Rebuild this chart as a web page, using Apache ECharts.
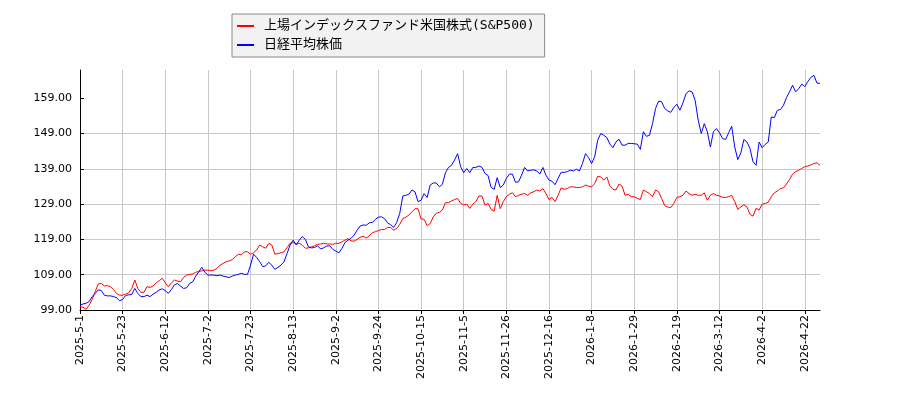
<!DOCTYPE html>
<html lang="ja">
<head>
    <meta charset="UTF-8">
    <title>上場インデックスファンド米国株式(S&P500)と日経平均株価</title>
    <script src="https://cdn.jsdelivr.net/npm/echarts@6/dist/echarts.min.js" type="text/javascript"></script>
    <style>
        html, body { margin: 0; padding: 0; background: #fff; }
    </style>
</head>
<body>
<div id="chart" style="width: 900px;height:400px;"></div>
</body>

<script type="text/javascript">
    // 東証の休場日 (平日)
    var holidays = ['2025-05-05', '2025-05-06', '2025-07-21', '2025-08-11', '2025-09-15', '2025-09-23',
        '2025-10-13', '2025-11-03', '2025-11-24', '2025-12-31', '2026-01-01', '2026-01-02',
        '2026-01-12', '2026-02-11', '2026-02-23', '2026-03-20', '2026-04-29'];

    var yTicks = [99, 109, 119, 129, 139, 149, 159];

    // 上場インデックスファンド米国株式(S&P500)
    var sp500 = [
        100.0, 99.8, 99.2, 100.4, 102.0, 104.2, 106.4, 106.5, 105.8, 105.9,
        105.6, 104.8, 103.7, 103.2, 103.2, 103.5, 103.9, 105.1, 107.5, 105.1,
        104.0, 104.0, 105.6, 105.4, 105.8, 106.7, 107.3, 108.0, 106.7, 105.6,
        106.7, 107.5, 107.2, 107.0, 108.2, 108.9, 109.1, 109.2, 109.7, 109.9,
        110.1, 110.3, 110.3, 110.1, 110.3, 110.8, 111.7, 112.2, 112.7, 112.9,
        113.3, 114.1, 114.8, 114.6, 115.5, 115.5, 114.8, 115.2, 116.0, 117.4,
        116.9, 116.5, 117.9, 117.4, 114.8, 115.0, 115.2, 115.5, 116.7, 117.9,
        118.1, 117.7, 117.9, 117.4, 116.5, 116.6, 116.9, 117.2, 117.6, 117.7,
        117.9, 117.7, 117.7, 117.6, 117.9, 117.9, 118.3, 118.8, 119.2, 118.6,
        118.5, 119.0, 119.6, 119.9, 119.4, 120.0, 120.9, 121.2, 121.5, 121.8,
        121.8, 122.4, 122.4, 121.6, 122.1, 123.3, 124.9, 125.3, 125.9, 126.8,
        127.7, 127.7, 124.8, 124.7, 122.9, 123.5, 125.4, 126.4, 126.7, 127.3,
        129.4, 129.4, 129.9, 130.3, 130.6, 129.2, 128.8, 129.0, 127.8, 129.0,
        129.7, 131.3, 131.3, 128.7, 129.2, 127.5, 127.0, 131.5, 127.7, 129.7,
        131.1, 131.8, 132.2, 131.1, 131.5, 131.8, 132.0, 131.5, 132.2, 132.5,
        133.0, 132.7, 133.4, 132.0, 130.3, 130.9, 129.7, 131.5, 133.6, 133.2,
        133.4, 133.9, 133.9, 133.7, 133.7, 133.9, 134.4, 134.1, 133.9, 134.8,
        136.9, 136.7, 135.8, 136.7, 134.1, 133.2, 133.0, 134.7, 134.1, 131.5,
        131.8, 131.1, 131.1, 130.6, 130.3, 133.0, 132.5, 132.0, 131.1, 133.0,
        132.5, 130.6, 128.6, 128.2, 128.0, 129.2, 130.9, 131.1, 131.5, 132.7,
        132.0, 131.5, 131.8, 131.5, 131.5, 132.2, 130.1, 131.5, 132.0, 131.5,
        131.3, 130.9, 130.9, 131.1, 131.5, 129.7, 127.5, 128.2, 128.8, 128.2,
        126.1, 125.6, 127.8, 127.3, 129.0, 129.2, 129.5, 131.1, 132.2, 132.7,
        133.4, 133.6, 134.7, 136.0, 137.5, 138.2, 138.6, 139.1, 139.6, 139.8,
        140.1, 140.5, 140.7, 140.0
    ];

    // 日経平均株価
    var nikkei = [
        100.4, 100.7, 100.9, 101.4, 102.8, 103.7, 104.7, 104.5, 103.2, 103.0,
        103.0, 102.8, 102.5, 101.6, 102.0, 103.1, 103.3, 103.4, 105.1, 103.7,
        102.8, 102.8, 103.2, 102.8, 103.5, 104.0, 104.7, 105.0, 104.5, 103.7,
        104.8, 106.1, 106.5, 105.8, 105.1, 105.3, 106.5, 107.0, 108.6, 109.8,
        111.1, 109.7, 108.9, 108.9, 108.9, 108.7, 108.9, 108.6, 108.4, 108.2,
        108.6, 108.9, 109.1, 109.4, 109.1, 109.1, 111.7, 114.8, 113.9, 112.7,
        111.3, 111.5, 112.5, 111.7, 110.5, 111.1, 111.7, 112.7, 115.0, 117.4,
        118.8, 117.4, 118.8, 119.8, 119.0, 116.9, 116.6, 116.7, 117.2, 116.3,
        116.6, 117.1, 117.2, 116.2, 115.7, 115.2, 116.4, 118.1, 118.8, 119.3,
        120.2, 121.6, 122.8, 123.1, 123.0, 123.7, 123.8, 124.7, 125.3, 125.4,
        124.9, 123.7, 123.2, 122.4, 123.8, 126.4, 131.3, 131.5, 131.8, 133.0,
        132.5, 129.7, 130.1, 132.0, 130.9, 134.4, 135.0, 135.0, 133.9, 134.6,
        137.9, 139.4, 140.0, 141.5, 143.3, 139.6, 137.9, 139.1, 137.9, 139.4,
        139.4, 139.8, 139.4, 137.7, 137.1, 133.7, 133.2, 136.5, 133.7, 134.4,
        136.3, 137.5, 137.5, 135.2, 135.3, 137.2, 139.4, 138.4, 138.6, 138.7,
        138.4, 137.5, 139.4, 137.2, 135.8, 135.5, 134.5, 136.3, 138.0, 138.0,
        138.2, 138.6, 138.4, 138.9, 138.4, 140.5, 143.3, 142.2, 140.5, 142.4,
        147.1, 149.0, 148.5, 147.9, 146.0, 145.0, 146.6, 147.4, 145.7, 145.7,
        146.2, 146.2, 146.1, 146.0, 144.5, 149.5, 148.2, 148.5, 151.8, 156.1,
        158.2, 158.0, 156.1, 155.4, 155.0, 156.4, 157.3, 155.6, 157.7, 160.3,
        161.1, 160.8, 158.4, 152.8, 149.0, 151.8, 149.5, 145.2, 149.5, 150.4,
        149.2, 147.6, 147.3, 149.2, 151.1, 145.2, 141.6, 143.5, 147.3, 146.6,
        144.8, 141.0, 140.0, 146.6, 145.0, 145.9, 146.6, 153.7, 153.5, 155.6,
        155.8, 157.0, 159.2, 160.8, 162.7, 160.8, 161.7, 163.0, 162.3, 163.7,
        164.9, 165.5, 163.3, 163.2
    ];

    // 営業日 (2025-5-1 から)
    var dates = [];
    var d = new Date(Date.UTC(2025, 4, 1));
    while (dates.length < sp500.length) {
        var iso = d.toISOString().slice(0, 10);
        var wd = d.getUTCDay();
        if (wd !== 0 && wd !== 6 && holidays.indexOf(iso) < 0) {
            dates.push(d.getUTCFullYear() + '-' + (d.getUTCMonth() + 1) + '-' + d.getUTCDate());
        }
        d.setUTCDate(d.getUTCDate() + 1);
    }

    var chart = echarts.init(document.getElementById('chart'));
    chart.setOption({
        animation: false,
        grid: {left: 80, right: 80, top: 70, bottom: 90},
        legend: {
            orient: 'vertical',
            left: 232,
            top: 14,
            padding: [4, 10, 4, 5],
            itemGap: 3,
            itemWidth: 17,
            itemHeight: 2,
            icon: 'rect',
            backgroundColor: '#f2f2f2',
            borderColor: '#8a8a8a',
            borderWidth: 1,
            borderRadius: 0,
            textStyle: {
                fontFamily: '"DejaVu Sans Mono", "Noto Sans CJK JP"',
                fontSize: 13,
                color: '#000',
                lineHeight: 16,
                padding: [0, 0, 0, 5]
            },
            data: ['上場インデックスファンド米国株式(S&P500)', '日経平均株価']
        },
        xAxis: {
            type: 'category',
            boundaryGap: false,
            data: dates,
            axisLine: {lineStyle: {color: '#000', width: 1}},
            axisTick: {interval: 13, length: 4, lineStyle: {color: '#000'}},
            axisLabel: {
                interval: 13,
                rotate: 90,
                margin: 5,
                fontFamily: 'DejaVu Sans',
                fontSize: 11,
                color: '#000'
            },
            splitLine: {show: true, interval: 13, lineStyle: {color: '#c8c8c8', width: 1}}
        },
        yAxis: {
            type: 'value',
            min: 99,
            max: 167,
            interval: 10,
            axisLine: {show: true, lineStyle: {color: '#000', width: 1}},
            axisTick: {show: true, inside: true, length: 4, customValues: yTicks, lineStyle: {color: '#000'}},
            axisLabel: {
                customValues: yTicks,
                margin: 8,
                fontFamily: 'DejaVu Sans',
                fontSize: 11,
                color: '#000',
                formatter: function (v) { return v.toFixed(2); }
            },
            splitLine: {show: true, showMaxLine: false, lineStyle: {color: '#c8c8c8', width: 1}}
        },
        series: [
            {
                name: '上場インデックスファンド米国株式(S&P500)',
                type: 'line',
                data: sp500,
                showSymbol: false,
                color: '#ff0000',
                lineStyle: {width: 1, color: '#ff0000'}
            },
            {
                name: '日経平均株価',
                type: 'line',
                data: nikkei,
                showSymbol: false,
                color: '#0000ff',
                lineStyle: {width: 1, color: '#0000ff'}
            }
        ]
    });
</script>
</html>
